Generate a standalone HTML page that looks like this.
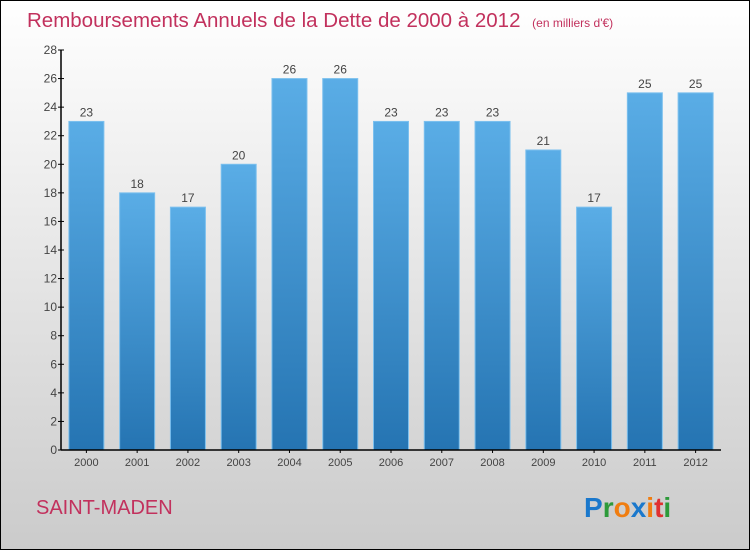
<!DOCTYPE html>
<html><head><meta charset="utf-8"><style>
html,body{margin:0;padding:0}
body{width:750px;height:550px;overflow:hidden;font-family:"Liberation Sans",sans-serif}
</style></head><body>
<svg width="750" height="550" xmlns="http://www.w3.org/2000/svg">
<defs>
<linearGradient id="bg" x1="0" y1="0" x2="0" y2="1"><stop offset="0" stop-color="#ffffff"/><stop offset="1" stop-color="#cbcbcb"/></linearGradient>
<linearGradient id="bar" x1="0" y1="0" x2="0" y2="1"><stop offset="0" stop-color="#5aade6"/><stop offset="1" stop-color="#2574b2"/></linearGradient>
</defs>
<rect x="0.5" y="0.5" width="749" height="549" fill="url(#bg)" stroke="#000"/>
<text x="27" y="27" font-size="20.5" fill="#c2315d">Remboursements Annuels de la Dette de 2000 à 2012 <tspan font-size="12" dx="6">(en milliers d'€)</tspan></text>
<g id="plot"></g>
<text x="36" y="514" font-size="20" fill="#c2315d">SAINT-MADEN</text>
<g font-size="28" font-weight="bold" font-family="'Liberation Sans',sans-serif">
<text x="584" y="517"><tspan fill="#1a78cc">P</tspan><tspan fill="#2d9a3a">r</tspan><tspan fill="#f07d10">o</tspan><tspan fill="#1a78cc">x</tspan><tspan fill="#f07d10">i</tspan><tspan fill="#e03030">t</tspan><tspan fill="#2d9a3a">i</tspan></text>
</g>
</svg>
<script>
const years=["2000","2001","2002","2003","2004","2005","2006","2007","2008","2009","2010","2011","2012"];
const values=[23,18,17,20,26,26,23,23,23,21,17,25,25];
const yTicks=[0,2,4,6,8,10,12,14,16,18,20,22,24,26,28];
const NS="http://www.w3.org/2000/svg";
const g=document.getElementById('plot');
const plotLeft=61,plotRight=721,yb=450,yt=50,ymax=28;
const band=(plotRight-plotLeft)/years.length;
const y=v=>yb-(v/ymax)*(yb-yt);
function mk(t,a,txt){const e=document.createElementNS(NS,t);for(const k in a)e.setAttribute(k,a[k]);if(txt!==undefined)e.textContent=txt;g.appendChild(e);return e;}
yTicks.forEach(t=>{
 const l=mk('line',{x1:plotLeft-3,x2:plotLeft+3,y1:y(t),y2:y(t),stroke:'#000'});
 
 
 const tx=mk('text',{x:plotLeft-4,y:y(t)+4,'font-size':12,fill:'#444','text-anchor':'end'},t);
 
 
});
years.forEach((yr,i)=>{
 const cx=plotLeft+band*(i+0.5),v=values[i];
 const r=mk('rect',{x:cx-17.5,y:y(v),width:35,height:yb-y(v),fill:'url(#bar)',stroke:'#7cc0ee','stroke-width':1});
 
 
 const vl=mk('text',{x:cx,y:y(v)-5,'font-size':12,fill:'#444','text-anchor':'middle'},v);
 
 
 const xt=mk('line',{x1:cx,x2:cx,y1:yb,y2:yb+3,stroke:'#000'});
 
 
 const xl=mk('text',{x:cx,y:466,'font-size':11,fill:'#444','text-anchor':'middle'},yr);
 
 
});
const ya=mk('line',{x1:plotLeft,x2:plotLeft,y1:yt,y2:yb,stroke:'#000','stroke-width':1.5});


const xa=mk('line',{x1:plotLeft,x2:plotRight,y1:yb,y2:yb,stroke:'#000','stroke-width':1.5});


</script>
</body></html>
